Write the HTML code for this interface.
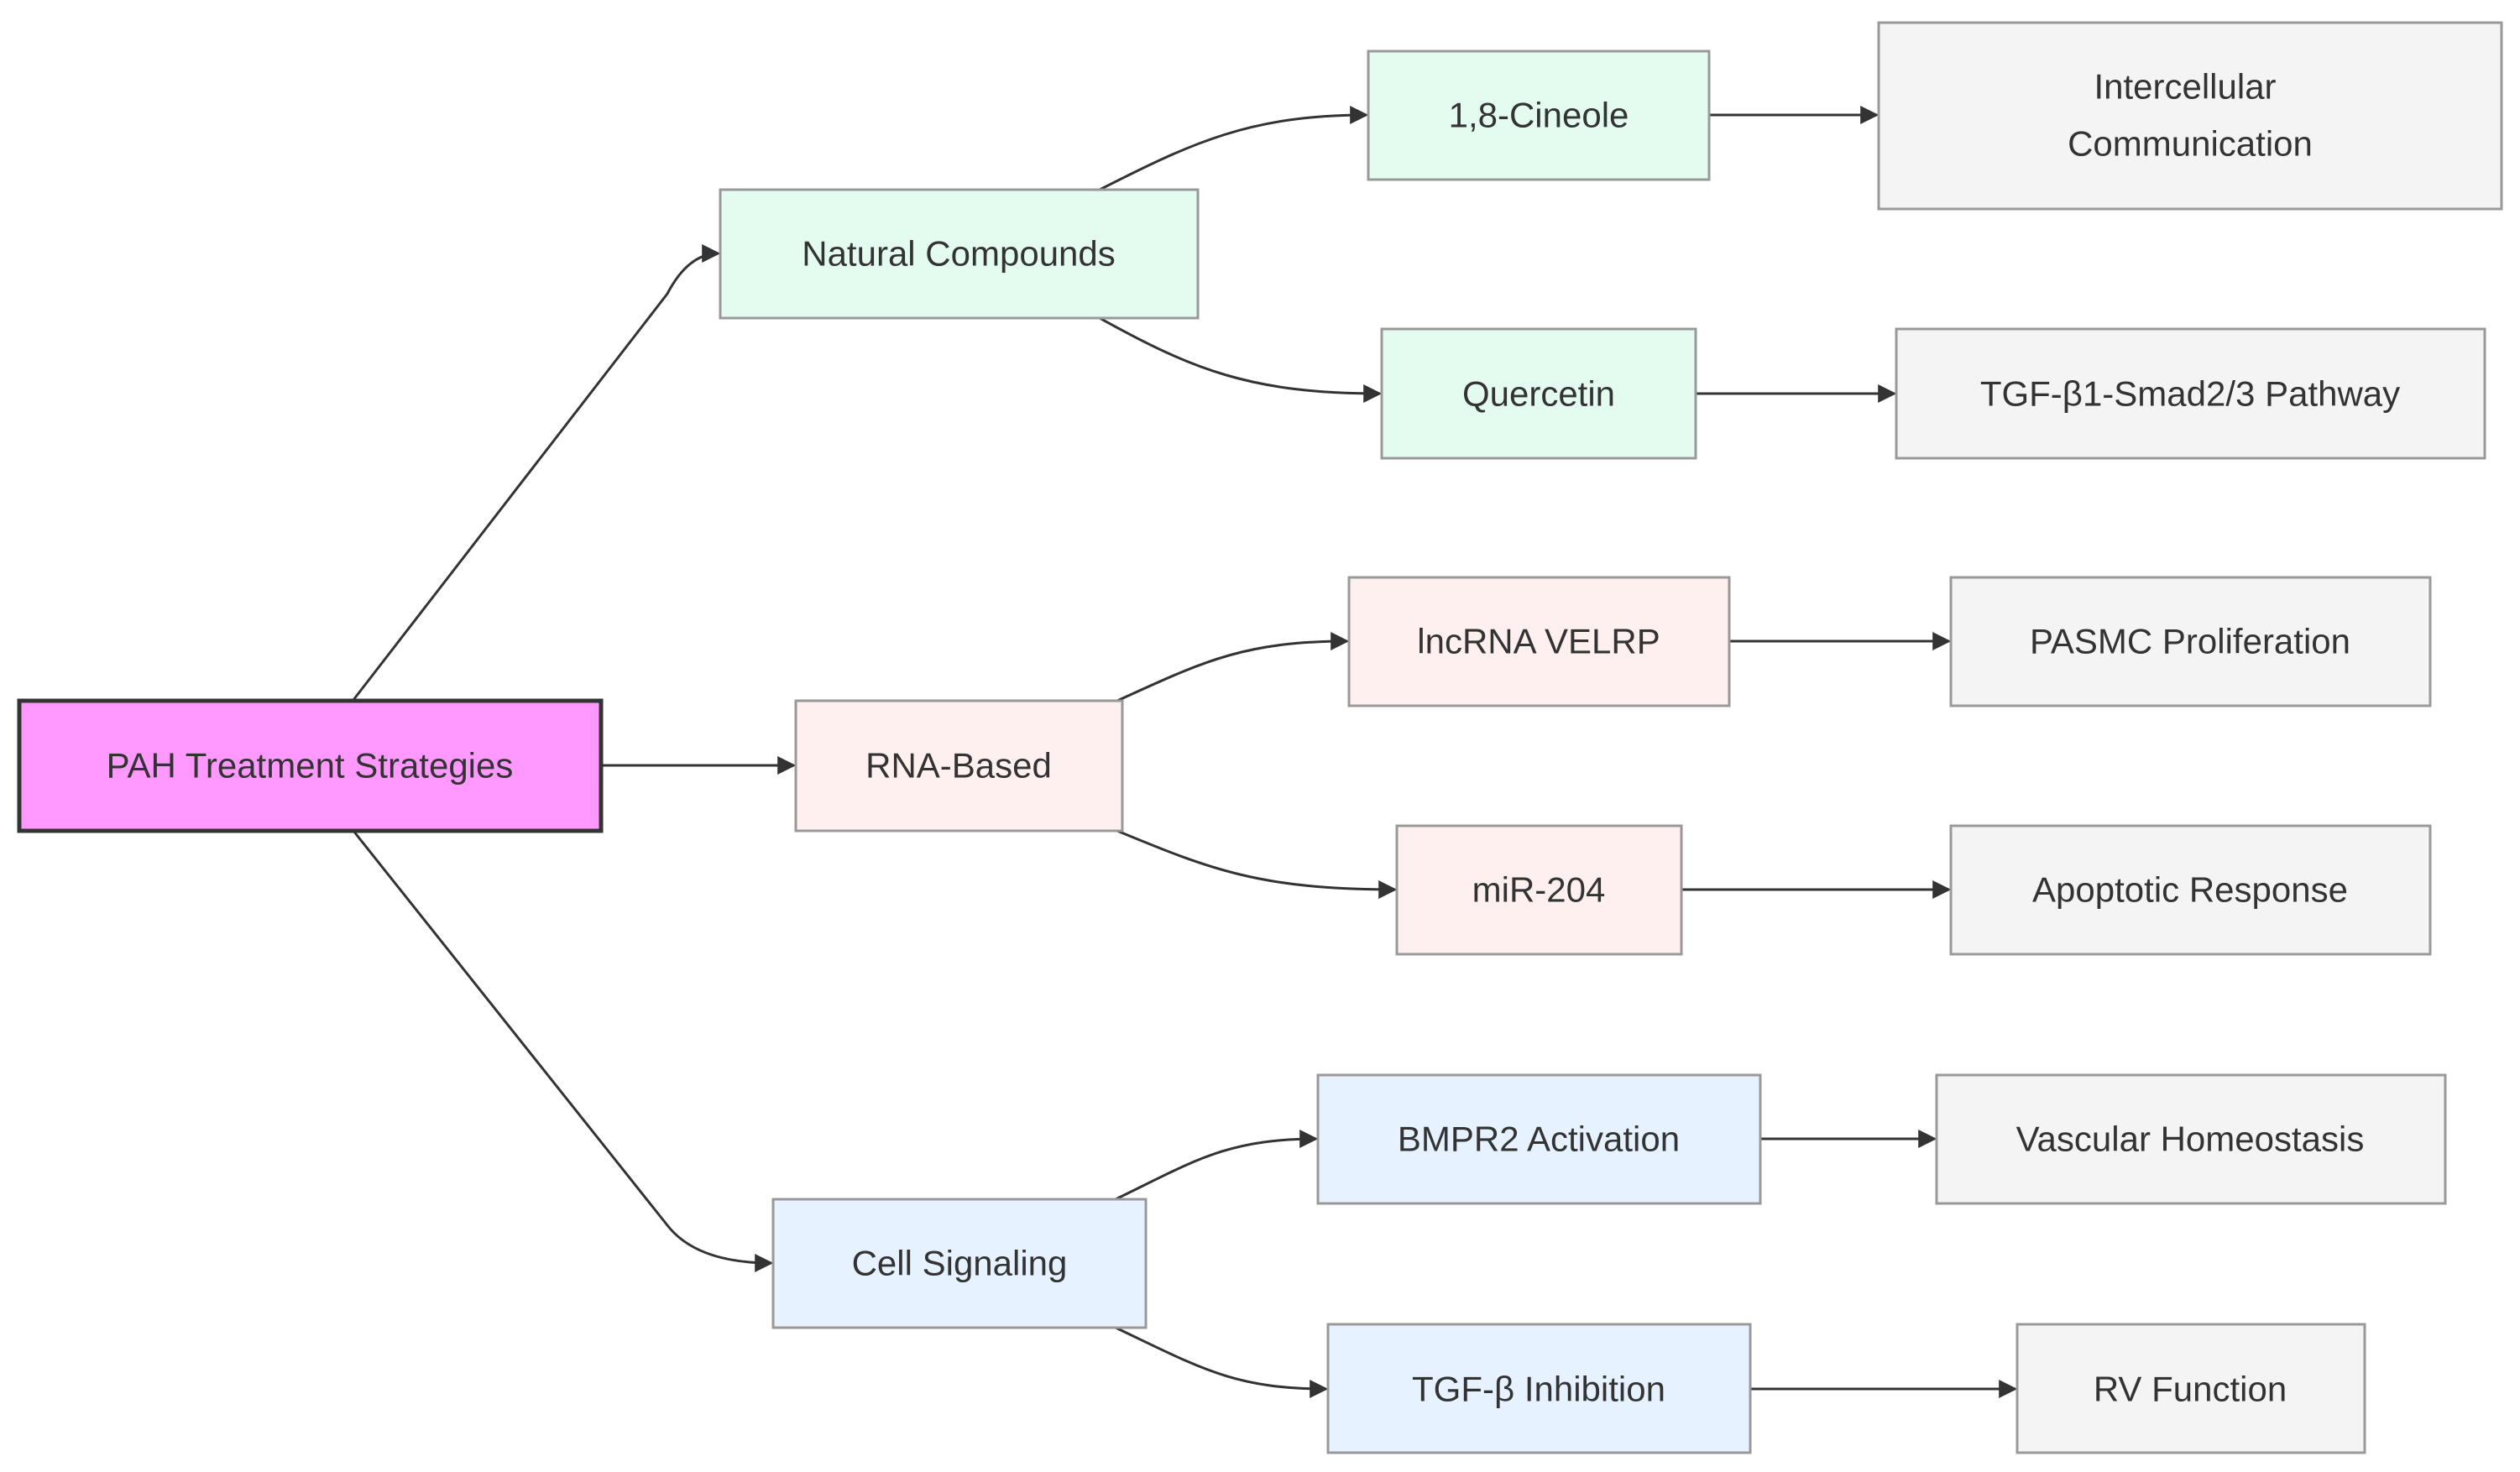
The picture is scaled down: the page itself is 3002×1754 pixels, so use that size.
<!DOCTYPE html>
<html><head><meta charset="utf-8"><style>
html,body{margin:0;padding:0;background:#fff;}
svg{display:block;}
text{font-family:"Liberation Sans",sans-serif;font-size:42px;fill:#333;text-anchor:middle;dominant-baseline:central;}
.g{fill:#e3fcef;stroke:#999;stroke-width:3}
.p{fill:#fff0f0;stroke:#999;stroke-width:3}
.b{fill:#e6f2ff;stroke:#999;stroke-width:3}
.n{fill:#f4f4f4;stroke:#999;stroke-width:3}
.e{fill:none;stroke:#333;stroke-width:3}
</style></head><body>
<svg width="3002" height="1754" viewBox="0 0 3002 1754" xmlns="http://www.w3.org/2000/svg">
<defs>
<marker id="m" viewBox="0 0 10 10" refX="9" refY="5" markerWidth="22" markerHeight="22" markerUnits="userSpaceOnUse" orient="auto"><path d="M0,0 L10,5 L0,10 z" fill="#333"/></marker></defs>
<path class="e" marker-end="url(#m)" d="M421,834 L795,350 Q820,302 856,302"/>
<path class="e" d="M716,912 L946,912" marker-end="url(#m)"/>
<path class="e" marker-end="url(#m)" d="M421,990 L795,1460 Q830,1505 919,1505"/>
<path class="e" marker-end="url(#m)" d="M1310,226 C1420,170 1490,137 1628,137"/>
<path class="e" marker-end="url(#m)" d="M1310,379 C1420,440 1490,469 1644,469"/>
<path class="e" marker-end="url(#m)" d="M1331,835 C1430,790 1480,764 1605,764"/>
<path class="e" marker-end="url(#m)" d="M1331,990 C1440,1035 1500,1060 1662,1060"/>
<path class="e" marker-end="url(#m)" d="M1329,1429 C1420,1385 1460,1357 1568,1357"/>
<path class="e" marker-end="url(#m)" d="M1329,1582 C1430,1630 1470,1655 1580,1655"/>
<path class="e" marker-end="url(#m)" d="M2036,137 L2236,137"/>
<path class="e" marker-end="url(#m)" d="M2020,469 L2257,469"/>
<path class="e" marker-end="url(#m)" d="M2060,764 L2322,764"/>
<path class="e" marker-end="url(#m)" d="M2003,1060 L2322,1060"/>
<path class="e" marker-end="url(#m)" d="M2097,1357 L2305,1357"/>
<path class="e" marker-end="url(#m)" d="M2085,1655 L2401,1655"/>
<rect x="23" y="835" width="693" height="155" fill="#ff99ff" stroke="#333" stroke-width="5"/>
<text x="369" y="912">PAH Treatment Strategies</text>
<rect class="g" x="858" y="226" width="569" height="153"/><text x="1142" y="302">Natural Compounds</text>
<rect class="p" x="948" y="835" width="389" height="155"/><text x="1142" y="912">RNA-Based</text>
<rect class="b" x="921" y="1429" width="444" height="153"/><text x="1143" y="1505">Cell Signaling</text>
<rect class="g" x="1630" y="61" width="406" height="153"/><text x="1833" y="137">1,8-Cineole</text>
<rect class="g" x="1646" y="392" width="374" height="154"/><text x="1833" y="469">Quercetin</text>
<rect class="p" x="1607" y="688" width="453" height="153"/><text x="1833" y="764">lncRNA VELRP</text>
<rect class="p" x="1664" y="984" width="339" height="153"/><text x="1833" y="1060">miR-204</text>
<rect class="b" x="1570" y="1281" width="527" height="153"/><text x="1833" y="1357">BMPR2 Activation</text>
<rect class="b" x="1582" y="1578" width="503" height="153"/><text x="1833" y="1655">TGF-β Inhibition</text>
<rect class="n" x="2238" y="27" width="742" height="222"/><text x="2603" y="103">Intercellular</text><text x="2609" y="171">Communication</text>
<rect class="n" x="2259" y="392" width="701" height="154"/><text x="2609" y="469">TGF-β1-Smad2/3 Pathway</text>
<rect class="n" x="2324" y="688" width="571" height="153"/><text x="2609" y="764">PASMC Proliferation</text>
<rect class="n" x="2324" y="984" width="571" height="153"/><text x="2609" y="1060">Apoptotic Response</text>
<rect class="n" x="2307" y="1281" width="606" height="153"/><text x="2609" y="1357">Vascular Homeostasis</text>
<rect class="n" x="2403" y="1578" width="414" height="153"/><text x="2609" y="1655">RV Function</text>
</svg>
</body></html>
